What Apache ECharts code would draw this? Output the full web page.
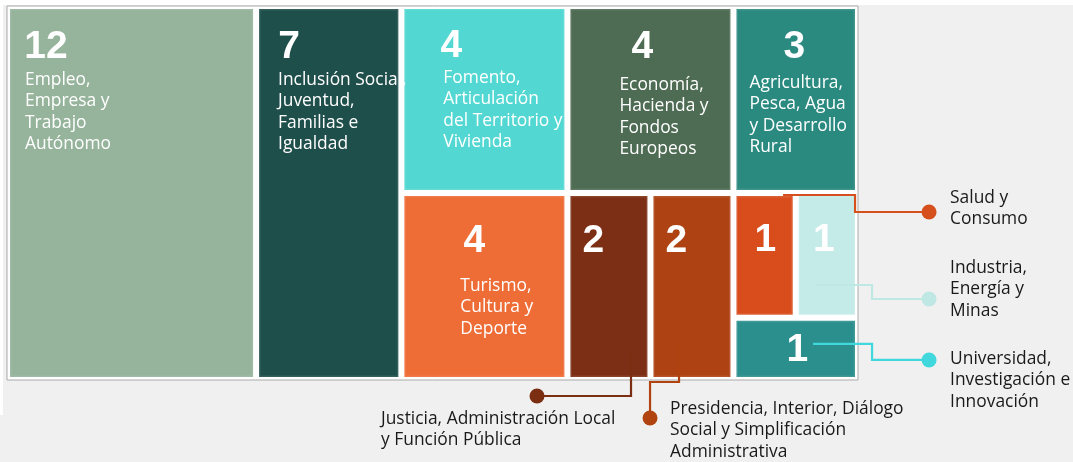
<!DOCTYPE html>
<html>
<head>
<meta charset="utf-8">
<script src="https://cdn.jsdelivr.net/npm/echarts@6/dist/echarts.min.js"></script>
<style>
html,body{margin:0;padding:0;background:#f0f0f0;}
#c{width:1073px;height:462px;}
</style>
</head>
<body>
<div id="c"></div>
<script>
// ---- data ----
const categories = [
  'Empleo, Empresa y Trabajo Autónomo',
  'Inclusión Social, Juventud, Familias e Igualdad',
  'Fomento, Articulación del Territorio y Vivienda',
  'Economía, Hacienda y Fondos Europeos',
  'Agricultura, Pesca, Agua y Desarrollo Rural',
  'Turismo, Cultura y Deporte',
  'Justicia, Administración Local y Función Pública',
  'Presidencia, Interior, Diálogo Social y Simplificación Administrativa',
  'Salud y Consumo',
  'Industria, Energía y Minas',
  'Universidad, Investigación e Innovación'
];
const values = [12, 7, 4, 4, 3, 4, 2, 2, 1, 1, 1];
const labelLines = [
  'Empleo,\nEmpresa y\nTrabajo\nAutónomo',
  'Inclusión Social,\nJuventud,\nFamilias e\nIgualdad',
  'Fomento,\nArticulación\ndel Territorio y\nVivienda',
  'Economía,\nHacienda y\nFondos\nEuropeos',
  'Agricultura,\nPesca, Agua\ny Desarrollo\nRural',
  'Turismo,\nCultura y\nDeporte',
  'Justicia, Administración Local\ny Función Pública',
  'Presidencia, Interior, Diálogo\nSocial y Simplificación\nAdministrativa',
  'Salud y\nConsumo',
  'Industria,\nEnergía y\nMinas',
  'Universidad,\nInvestigación e\nInnovación'
];
// grouping of the tiles (h = side by side, v = stacked)
const layoutTree = ['h', [0, 1, ['v', [['h', [2, 3, 4]], ['h', [5, 6, 7, ['v', [['h', [8, 9]], 10]]]]]]]];

// ---- styles ----
const colors = ['#96b49b', '#1f4f4b', '#52d7d2', '#4e6c53', '#2b8a80', '#ee6c36', '#7c2f14', '#ae4212', '#d94c1c', '#c4ebe8', '#2b8f8e'];
// number centre x / centre y, name left x / first-line centre y (px from tile top-left)
const labelPos = [
  {nx: 36, ny: 38, tx: 15, ty: 71},
  {nx: 30, ny: 38, tx: 19, ty: 71},
  {nx: 47, ny: 37, tx: 39, ty: 69},
  {nx: 72, ny: 38, tx: 49, ty: 76},
  {nx: 58, ny: 38, tx: 13, ty: 74},
  {nx: 70, ny: 45, tx: 56, ty: 90},
  {nx: 23, ny: 45},
  {nx: 23, ny: 45},
  {nx: 29, ny: 44},
  {nx: 25, ny: 44},
  {nx: 61, ny: 30}
];
// callouts: path points relative to tile top-left, label offset relative to end dot
const callouts = {
  6: {color: '#7b2e12', pts: [[60.6, 154], [60.6, 200], [-33.4, 200]], lx: -156, ly: 23},
  7: {color: '#b0430f', pts: [[25.6, 147], [25.6, 186], [-3.4, 186], [-3.4, 222]], lx: 20, ly: -9},
  8: {color: '#d5501c', pts: [[46.6, -1], [118.6, -1], [118.6, 16], [192.6, 16]], lx: 21, ly: -14},
  9: {color: '#bfe7e3', pts: [[16.3, 89], [73.3, 89], [73.3, 103], [130.3, 103]], lx: 21, ly: -31},
  10: {color: '#40d8dc', pts: [[76.6, 23.3], [135.6, 23.3], [135.6, 39.3], [192.6, 39.3]], lx: 21, ly: -1}
};

// ---- slice-and-dice layout in data units ----
function sumNode(n) {
  if (typeof n === 'number') return values[n];
  return n[1].reduce((s, c) => s + sumNode(c), 0);
}
const total = sumNode(layoutTree);
const rects = [];
function layout(n, x0, y0, x1, y1) {
  if (typeof n === 'number') { rects[n] = [x0, y0, x1, y1]; return; }
  const s = sumNode(n);
  let pos = n[0] === 'h' ? x0 : y0;
  n[1].forEach(c => {
    const f = sumNode(c) / s;
    if (n[0] === 'h') { const w = (x1 - x0) * f; layout(c, pos, y0, pos + w, y1); pos += w; }
    else { const h = (y1 - y0) * f; layout(c, x0, pos, x1, pos + h); pos += h; }
  });
}
layout(layoutTree, 0, 0, total, 1);
const seriesData = values.map((v, i) => ({name: categories[i], value: [rects[i][0], rects[i][1], rects[i][2], rects[i][3], v]}));

const NAME_FONT = '17.4px "Open Sans"';
const LH = 21.5;
const GAP = 3;

function renderItem(params, api) {
  const i = params.dataIndex;
  const p0 = api.coord([api.value(0), api.value(1)]);
  const p1 = api.coord([api.value(2), api.value(3)]);
  const x = p0[0] + GAP, y = p0[1] + GAP;
  const w = p1[0] - p0[0] - 2 * GAP, h = p1[1] - p0[1] - 2 * GAP;
  const lp = labelPos[i];
  const children = [
    {type: 'rect', shape: {x: x, y: y, width: w, height: h}, style: {fill: colors[i], stroke: 'rgba(255,255,255,0.10)', lineWidth: 3}},
    {type: 'text', z2: 10, style: {x: x + lp.nx, y: y + lp.ny, text: String(api.value(4)), fill: '#fff', font: 'bold 39px "Liberation Sans", Arial', align: 'center', verticalAlign: 'middle'}}
  ];
  const co = callouts[i];
  if (co) {
    const pts = co.pts.map(p => [x + p[0], y + p[1]]);
    const end = pts[pts.length - 1];
    children.push({type: 'polyline', z2: 20, shape: {points: pts}, style: {stroke: co.color, lineWidth: 2.2, fill: null}});
    children.push({type: 'circle', z2: 21, shape: {cx: end[0], cy: end[1], r: 7.5}, style: {fill: co.color}});
    children.push({type: 'text', z2: 21, style: {x: end[0] + co.lx, y: end[1] + co.ly - LH / 2, text: labelLines[i], fill: '#1a1a1a', font: NAME_FONT, lineHeight: LH, align: 'left', verticalAlign: 'top'}});
  } else {
    children.push({type: 'text', z2: 10, style: {x: x + lp.tx, y: y + lp.ty - LH / 2, text: labelLines[i], fill: '#fff', font: NAME_FONT, lineHeight: LH, align: 'left', verticalAlign: 'top'}});
  }
  return {type: 'group', children: children};
}

const chart = echarts.init(document.getElementById('c'), null, {renderer: 'canvas'});
chart.setOption({
  backgroundColor: '#f0f0f0',
  animation: false,
  graphic: [
    {type: 'rect', left: 0, top: 0, shape: {width: 1073, height: 5}, style: {fill: '#ffffff'}, z: -10},
    {type: 'rect', left: 0, top: 0, shape: {width: 3, height: 415}, style: {fill: '#ffffff'}, z: -10}
  ],
  grid: {left: 7, top: 6, right: 215, bottom: 82, show: true, backgroundColor: '#ffffff', borderColor: '#a9a9a9', borderWidth: 1},
  xAxis: {type: 'value', min: 0, max: total, show: false},
  yAxis: {type: 'value', min: 0, max: 1, inverse: true, show: false},
  series: [{type: 'custom', renderItem: renderItem, data: seriesData, clip: false}]
});
</script>
</body>
</html>
